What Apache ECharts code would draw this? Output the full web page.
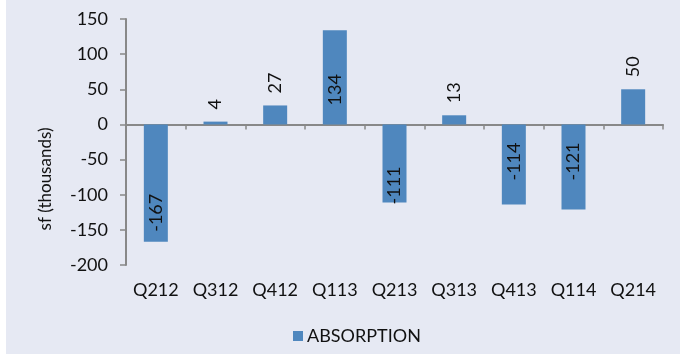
<!DOCTYPE html>
<html>
<head>
<meta charset="utf-8">
<script src="https://cdn.jsdelivr.net/npm/echarts@6/dist/echarts.min.js"></script>
<style>
  html, body { margin: 0; padding: 0; background: #ffffff; }
  #chart { position: absolute; left: 6px; top: 0; width: 674px; height: 354px; background: #e6e9f3; }
</style>
</head>
<body>
<div id="chart"></div>
<script>
const quarters = ['Q212', 'Q312', 'Q412', 'Q113', 'Q213', 'Q313', 'Q413', 'Q114', 'Q214'];
const absorption = [-167, 4, 27, 134, -111, 13, -114, -121, 50];
const yTicks = { min: -200, max: 150, interval: 50 };

const font = 'Lato, "Open Sans", sans-serif';
const barColor = '#4f87be';
const axisColor = '#888888';

// label placement tweaks per bar (Excel puts them a bit unevenly)
const labelTweaks = {
  0: { position: 'insideBottom', distance: 10 },
  3: { position: 'insideBottom', distance: 19 },
  4: { position: 'insideBottom', distance: -2 },
  6: { position: 'insideBottom', distance: 24 },
  7: { position: 'insideBottom', distance: 29 }
};

const chart = echarts.init(document.getElementById('chart'));

chart.setOption({
  animation: false,
  textStyle: { fontFamily: font },
  grid: { left: 120, right: 17, top: 19, bottom: 89 },
  legend: {
    data: ['ABSORPTION'],
    bottom: 4,
    left: 282,
    icon: 'rect',
    itemWidth: 10,
    itemHeight: 10,
    itemGap: 4,
    textStyle: { fontFamily: font, fontSize: 18, color: '#111', padding: [0, 0, 0, -1] }
  },
  xAxis: [
    {
      type: 'category',
      data: quarters,
      axisLine: { show: false, onZero: false },
      axisTick: { show: false },
      axisLabel: { margin: 16, fontSize: 18, color: '#111', fontFamily: font }
    },
    {
      type: 'category',
      data: quarters,
      position: 'bottom',
      axisLine: { onZero: true, lineStyle: { color: axisColor, width: 2 } },
      axisTick: { show: true, length: 5, lineStyle: { color: axisColor, width: 1.5 } },
      axisLabel: { show: false }
    }
  ],
  yAxis: {
    type: 'value',
    min: yTicks.min,
    max: yTicks.max,
    interval: yTicks.interval,
    name: 'sf (thousands)',
    nameLocation: 'middle',
    nameGap: 72,
    nameTextStyle: { fontSize: 17, color: '#111', fontFamily: font, padding: [0, 74, 0, 0] },
    axisLine: { show: true, lineStyle: { color: axisColor, width: 2 } },
    axisTick: { show: true, length: 6, lineStyle: { color: axisColor, width: 1.5 } },
    axisLabel: { margin: 18, fontSize: 18, color: '#111', fontFamily: font },
    splitLine: { show: false }
  },
  series: [
    {
      name: 'ABSORPTION',
      type: 'bar',
      xAxisIndex: 0,
      barWidth: 24,
      itemStyle: { color: barColor },
      label: {
        show: true,
        position: 'top',
        distance: 12,
        rotate: 90,
        align: 'left',
        verticalAlign: 'middle',
        fontSize: 18,
        color: '#111',
        fontFamily: font
      },
      data: absorption.map((v, i) => {
        const t = labelTweaks[i];
        return t ? { value: v, label: t } : v;
      })
    }
  ]
});
</script>
</body>
</html>
